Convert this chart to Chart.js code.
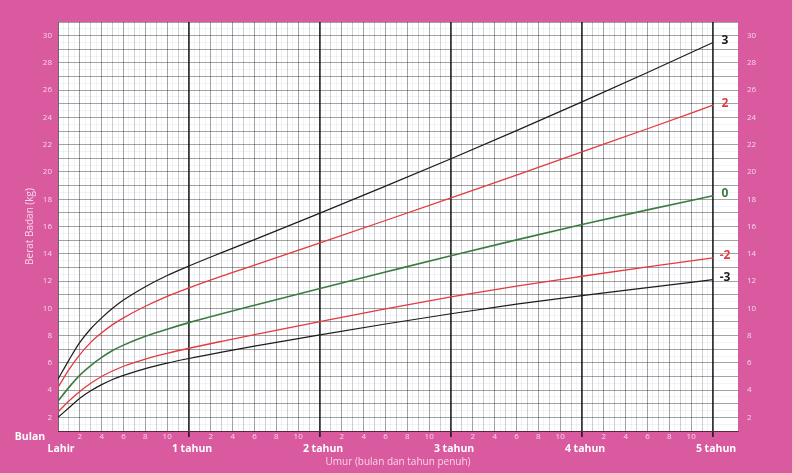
<!DOCTYPE html>
<html>
<head>
<meta charset="utf-8">
<title>Berat Badan menurut Umur</title>
<script src="https://cdn.jsdelivr.net/npm/chart.js@4.4.0/dist/chart.umd.min.js"></script>
<style>
  html, body { margin: 0; padding: 0; background: #d95a9e; }
  #wrap { width: 792px; height: 473px; }
</style>
</head>
<body>
<div id="wrap"><canvas id="chart" width="792" height="473"></canvas></div>
<script>
// umur (bulan) and berat (kg) per garis z-score
const months = [0, 1, 2, 3, 4, 5, 6, 8, 10, 12, 15, 18, 24, 30, 36, 42, 48, 54, 60];
const sd3 = [4.8, 6.2, 7.5, 8.5, 9.3, 10.0, 10.6, 11.58, 12.4, 13.1, 14.08, 15.04, 16.98, 18.96, 20.97, 23.03, 25.14, 27.3, 29.5];
const sd2 = [4.2, 5.5, 6.6, 7.5, 8.2, 8.8, 9.3, 10.15, 10.88, 11.5, 12.36, 13.17, 14.8, 16.44, 18.1, 19.77, 21.47, 23.17, 24.9];
const sd0 = [3.2, 4.2, 5.1, 5.8, 6.4, 6.9, 7.3, 7.95, 8.47, 8.95, 9.6, 10.22, 11.45, 12.66, 13.86, 15.02, 16.14, 17.22, 18.25];
const sdMin2 = [2.4, 3.2, 3.9, 4.5, 5.0, 5.4, 5.75, 6.28, 6.7, 7.07, 7.58, 8.07, 9.02, 9.95, 10.83, 11.63, 12.35, 13.04, 13.7];
const sdMin3 = [2.0, 2.7, 3.4, 3.95, 4.4, 4.78, 5.08, 5.58, 5.98, 6.32, 6.78, 7.22, 8.05, 8.85, 9.6, 10.3, 10.93, 11.52, 12.1];
const yearTicks = [0, 12, 24, 36, 48, 60];
const yearLabels = ['Lahir', '1 tahun', '2 tahun', '3 tahun', '4 tahun', '5 tahun'];

const FONT = '"Open Sans", "Noto Sans", sans-serif';
const PINK_TEXT = '#f8d6e7';
const X_MAX = 62.29;
const YEAR_SHIFT = 0.28; // year labels sit a little right of their line

// grid every half month / half kg
const xGrid = [];
for (let v = 0; v <= 60; v += 0.5) xGrid.push(v);
const yGrid = [];
for (let v = 1; v <= 31; v += 0.5) yGrid.push(v);

const toPts = arr => months.map((m, i) => ({ x: m, y: arr[i] }));

const line = (label, data, color, width) => ({
  label: label,
  data: toPts(data),
  borderColor: color,
  borderWidth: width,
  pointRadius: 0,
  fill: false,
  cubicInterpolationMode: 'monotone'
});

const isYear = v => v > 0 && v % 12 === 0;

const decor = {
  id: 'decor',
  beforeDraw(chart) {
    const { ctx, chartArea: a } = chart;
    ctx.save();
    ctx.fillStyle = '#ffffff';
    ctx.fillRect(a.left, a.top, a.right - a.left, a.bottom - a.top);
    ctx.restore();
  },
  afterDatasetsDraw(chart) {
    const { ctx, scales } = chart;
    const x = scales.x, y = scales.y;
    ctx.save();
    ctx.font = 'bold 12px ' + FONT;
    ctx.textAlign = 'center';
    ctx.textBaseline = 'middle';
    chart.data.datasets.forEach(ds => {
      const last = ds.data[ds.data.length - 1];
      ctx.fillStyle = ds.borderColor;
      ctx.fillText(ds.label, x.getPixelForValue(last.x) + 12, y.getPixelForValue(last.y) - 2);
    });
    ctx.font = 'bold 10.5px ' + FONT;
    ctx.fillStyle = '#ffffff';
    ctx.fillText('Bulan', x.left - 28, x.top + 6);
    ctx.restore();
  }
};

new Chart(document.getElementById('chart'), {
  type: 'line',
  data: {
    datasets: [
      line('3', sd3, '#1c1c1c', 1.2),
      line('2', sd2, '#e23a40', 1.3),
      line('0', sd0, '#3c7c40', 1.6),
      line('-2', sdMin2, '#e23a40', 1.3),
      line('-3', sdMin3, '#1c1c1c', 1.2)
    ]
  },
  options: {
    responsive: false,
    animation: false,
    layout: { padding: { top: 22, left: 0, right: 0, bottom: 0 } },
    plugins: { legend: { display: false }, tooltip: { enabled: false } },
    scales: {
      x: {
        type: 'linear',
        position: 'bottom',
        weight: 0,
        min: 0,
        max: X_MAX,
        afterBuildTicks: s => { s.ticks = xGrid.map(v => ({ value: v })); },
        afterFit: s => { s.height = 12; },
        ticks: {
          autoSkip: false,
          maxRotation: 0,
          padding: -5,
          color: PINK_TEXT,
          font: { family: FONT, size: 8 },
          callback: v => (Number.isInteger(v) && v % 2 === 0 && v % 12 !== 0) ? String(v % 12) : ''
        },
        grid: {
          drawTicks: true,
          tickLength: 6,
          color: ctx => {
            const v = ctx.tick ? ctx.tick.value : 0;
            if (isYear(v)) return 'rgba(20,20,20,0.85)';
            if (Number.isInteger(v)) return v % 2 === 0 ? 'rgba(0,0,0,0.36)' : 'rgba(0,0,0,0.19)';
            return 'rgba(70,100,150,0.08)';
          },
          lineWidth: ctx => (ctx.tick && isYear(ctx.tick.value)) ? 1.8 : 1,
          tickColor: ctx => (ctx.tick && isYear(ctx.tick.value)) ? 'rgba(20,20,20,0.85)' : 'rgba(0,0,0,0)'
        },
        border: { display: true, color: 'rgba(0,0,0,0.36)', width: 1 }
      },
      x2: {
        type: 'linear',
        position: 'bottom',
        weight: 1,
        min: -YEAR_SHIFT,
        max: X_MAX - YEAR_SHIFT,
        afterBuildTicks: s => { s.ticks = yearTicks.map(v => ({ value: v })); },
        afterFit: s => { s.height = 30; },
        ticks: {
          autoSkip: false,
          maxRotation: 0,
          padding: 0,
          color: '#ffffff',
          font: { family: FONT, size: 10.5, weight: 'bold' },
          callback: v => yearLabels[yearTicks.indexOf(v)] || ''
        },
        grid: { display: false, drawTicks: false },
        border: { display: false },
        title: {
          display: true,
          text: 'Umur (bulan dan tahun penuh)',
          color: PINK_TEXT,
          font: { family: FONT, size: 10 },
          padding: { top: 0, bottom: 5 }
        }
      },
      y: {
        position: 'left',
        min: 1,
        max: 31,
        afterBuildTicks: s => { s.ticks = yGrid.map(v => ({ value: v })); },
        afterFit: s => { s.width = 58; },
        ticks: {
          autoSkip: false,
          padding: 6,
          color: PINK_TEXT,
          font: { family: FONT, size: 8 },
          callback: v => (Number.isInteger(v) && v % 2 === 0) ? String(v) : ''
        },
        grid: {
          drawTicks: false,
          color: ctx => (ctx.tick && Number.isInteger(ctx.tick.value)) ? 'rgba(0,0,0,0.36)' : 'rgba(70,100,150,0.08)'
        },
        border: { display: true, color: 'rgba(0,0,0,0.36)', width: 1 },
        title: {
          display: true,
          text: 'Berat Badan (kg)',
          color: PINK_TEXT,
          font: { family: FONT, size: 10 },
          padding: { top: 24, bottom: 0 }
        }
      },
      y2: {
        position: 'right',
        min: 1,
        max: 31,
        afterBuildTicks: s => { s.ticks = yGrid.map(v => ({ value: v })); },
        afterFit: s => { s.width = 54; },
        ticks: {
          autoSkip: false,
          padding: 9,
          color: PINK_TEXT,
          font: { family: FONT, size: 8 },
          callback: v => (Number.isInteger(v) && v % 2 === 0) ? String(v) : ''
        },
        grid: { display: false, drawTicks: false },
        border: { display: false }
      }
    }
  },
  plugins: [decor]
});
</script>
</body>
</html>
